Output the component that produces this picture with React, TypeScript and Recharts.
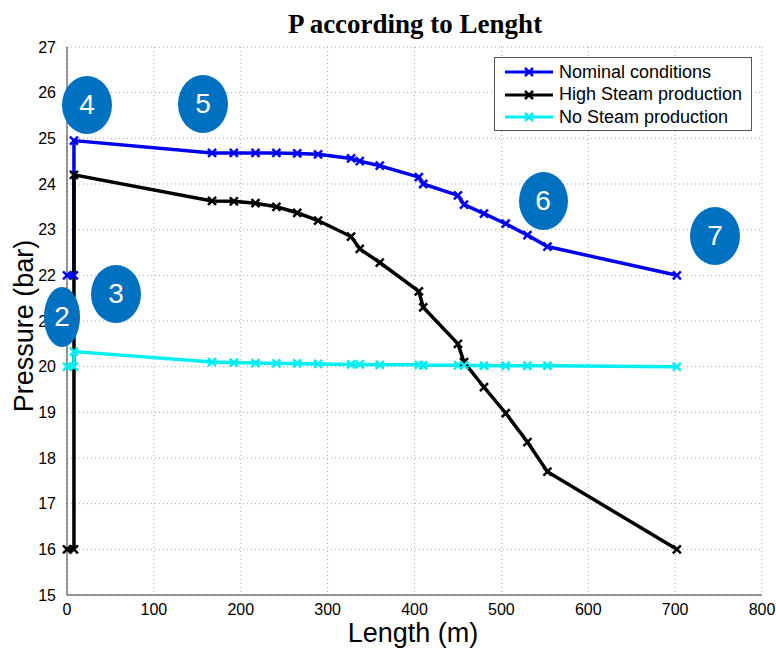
import { LineChart, Line, XAxis, YAxis, CartesianGrid } from "recharts";

// x positions (m) shared by the three runs
const lengths = [0, 8, 8, 167, 192, 217, 241, 265, 289, 327, 337, 360, 405, 410, 450, 457, 480, 505, 530, 553, 702];

const nominal = [22, 22, 24.95, 24.68, 24.68, 24.68, 24.68, 24.67, 24.65, 24.56, 24.5, 24.4, 24.15, 24.0, 23.75, 23.55, 23.35, 23.13, 22.88, 22.63, 22.0];
const highSteam = [16, 16, 24.2, 23.63, 23.62, 23.58, 23.5, 23.37, 23.2, 22.85, 22.58, 22.28, 21.65, 21.3, 20.5, 20.1, 19.55, 18.98, 18.35, 17.7, 16.0];
const noSteam = [20, 20, 20.33, 20.1, 20.09, 20.08, 20.07, 20.07, 20.06, 20.05, 20.05, 20.04, 20.04, 20.03, 20.03, 20.03, 20.02, 20.02, 20.02, 20.02, 20.0];

const xTicks = [0, 100, 200, 300, 400, 500, 600, 700, 800];
const yTicks = [15, 16, 17, 18, 19, 20, 21, 22, 23, 24, 25, 26, 27];

const seriesNames = ["Nominal conditions", "High Steam production", "No Steam production"];
const seriesColors = ["#0000f0", "#000000", "#00f0f0"];

const makeRows = (ys: number[]) => lengths.map((x, i) => ({ x, y: ys[i] }));

const font = "Arial, 'Liberation Sans', sans-serif";

function XMark(props: any) {
  const { cx, cy, stroke } = props;
  if (cx == null || cy == null) return <g />;
  const s = 4;
  return (
    <g>
      <line x1={cx - s} y1={cy - s} x2={cx + s} y2={cy + s} stroke={stroke} strokeWidth={2.5} />
      <line x1={cx - s} y1={cy + s} x2={cx + s} y2={cy - s} stroke={stroke} strokeWidth={2.5} />
    </g>
  );
}

// numbered callouts on the figure
const callouts = [
  { n: "4", cx: 87, cy: 105, w: 50, h: 58 },
  { n: "5", cx: 203, cy: 104, w: 50, h: 58 },
  { n: "2", cx: 62, cy: 317, w: 36, h: 60 },
  { n: "3", cx: 116, cy: 294, w: 50, h: 58 },
  { n: "6", cx: 543, cy: 201, w: 49, h: 58 },
  { n: "7", cx: 715, cy: 236, w: 50, h: 58 },
];

export default function App() {
  const all = [nominal, highSteam, noSteam];
  return (
    <div style={{ position: "fixed", top: 0, left: 0, width: 776, height: 648, background: "#fff" }}>
      <LineChart width={776} height={648} margin={{ top: 47, right: 14, left: 17, bottom: 23 }}>
        <CartesianGrid stroke="#aaaaaa" strokeDasharray="1 3" />
        <XAxis
          dataKey="x"
          type="number"
          domain={[0, 800]}
          ticks={xTicks}
          allowDuplicatedCategory={false}
          height={30}
          tickLine={false}
          axisLine={{ stroke: "#333" }}
          tick={{ fill: "#000", fontSize: 16, fontFamily: font }}
          tickMargin={3}
        />
        <XAxis xAxisId="top" orientation="top" type="number" domain={[0, 800]} height={0} tick={false} tickLine={false} axisLine={{ stroke: "#333" }} />
        <YAxis
          type="number"
          domain={[15, 27]}
          ticks={yTicks}
          width={50}
          tickLine={false}
          axisLine={{ stroke: "#333" }}
          tick={{ fill: "#000", fontSize: 16, fontFamily: font }}
          tickMargin={5}
        />
        <YAxis yAxisId="right" orientation="right" domain={[15, 27]} width={0} tick={false} tickLine={false} axisLine={{ stroke: "#333" }} />
        {all.map((ys, i) => (
          <Line
            key={seriesNames[i]}
            data={makeRows(ys)}
            dataKey="y"
            name={seriesNames[i]}
            type="linear"
            stroke={seriesColors[i]}
            strokeWidth={3.5}
            dot={<XMark />}
            activeDot={false}
            isAnimationActive={false}
          />
        ))}
      </LineChart>

      <div
        style={{
          position: "absolute",
          left: 0,
          width: 776,
          top: 9,
          textAlign: "center",
          paddingLeft: 54,
          boxSizing: "border-box",
          fontFamily: "'Liberation Serif', 'Times New Roman', serif",
          fontWeight: "bold",
          fontSize: 27,
          lineHeight: "30px",
        }}
      >
        P according to Lenght
      </div>

      <div
        style={{
          position: "absolute",
          left: 413 - 100,
          width: 200,
          top: 619,
          textAlign: "center",
          fontFamily: font,
          fontSize: 27,
          lineHeight: "29px",
        }}
      >
        Length (m)
      </div>

      <div
        style={{
          position: "absolute",
          left: 24 - 120,
          top: 326 - 16,
          width: 240,
          textAlign: "center",
          transform: "rotate(-90deg)",
          fontFamily: font,
          fontSize: 27,
          lineHeight: "32px",
        }}
      >
        Pressure (bar)
      </div>

      <div
        style={{
          position: "absolute",
          left: 494,
          top: 57,
          width: 256,
          height: 72,
          border: "1px solid #555",
          background: "#fff",
          fontFamily: font,
          fontSize: 18,
        }}
      >
        {seriesNames.map((name, i) => (
          <div key={name} style={{ position: "absolute", left: 10, top: 3 + i * 22.5, height: 22, display: "flex", alignItems: "center" }}>
            <svg width={48} height={22}>
              <line x1={0} y1={11} x2={48} y2={11} stroke={seriesColors[i]} strokeWidth={3} />
              <line x1={20} y1={7} x2={28} y2={15} stroke={seriesColors[i]} strokeWidth={2.5} />
              <line x1={20} y1={15} x2={28} y2={7} stroke={seriesColors[i]} strokeWidth={2.5} />
            </svg>
            <span style={{ marginLeft: 6, whiteSpace: "nowrap" }}>{name}</span>
          </div>
        ))}
      </div>

      {callouts.map((c) => (
        <div
          key={c.n}
          style={{
            position: "absolute",
            left: c.cx - c.w / 2,
            top: c.cy - c.h / 2,
            width: c.w,
            height: c.h,
            borderRadius: "50%",
            background: "#0070c0",
            color: "#fff",
            fontFamily: font,
            fontSize: 28,
            display: "flex",
            alignItems: "center",
            justifyContent: "center",
          }}
        >
          {c.n}
        </div>
      ))}
    </div>
  );
}
